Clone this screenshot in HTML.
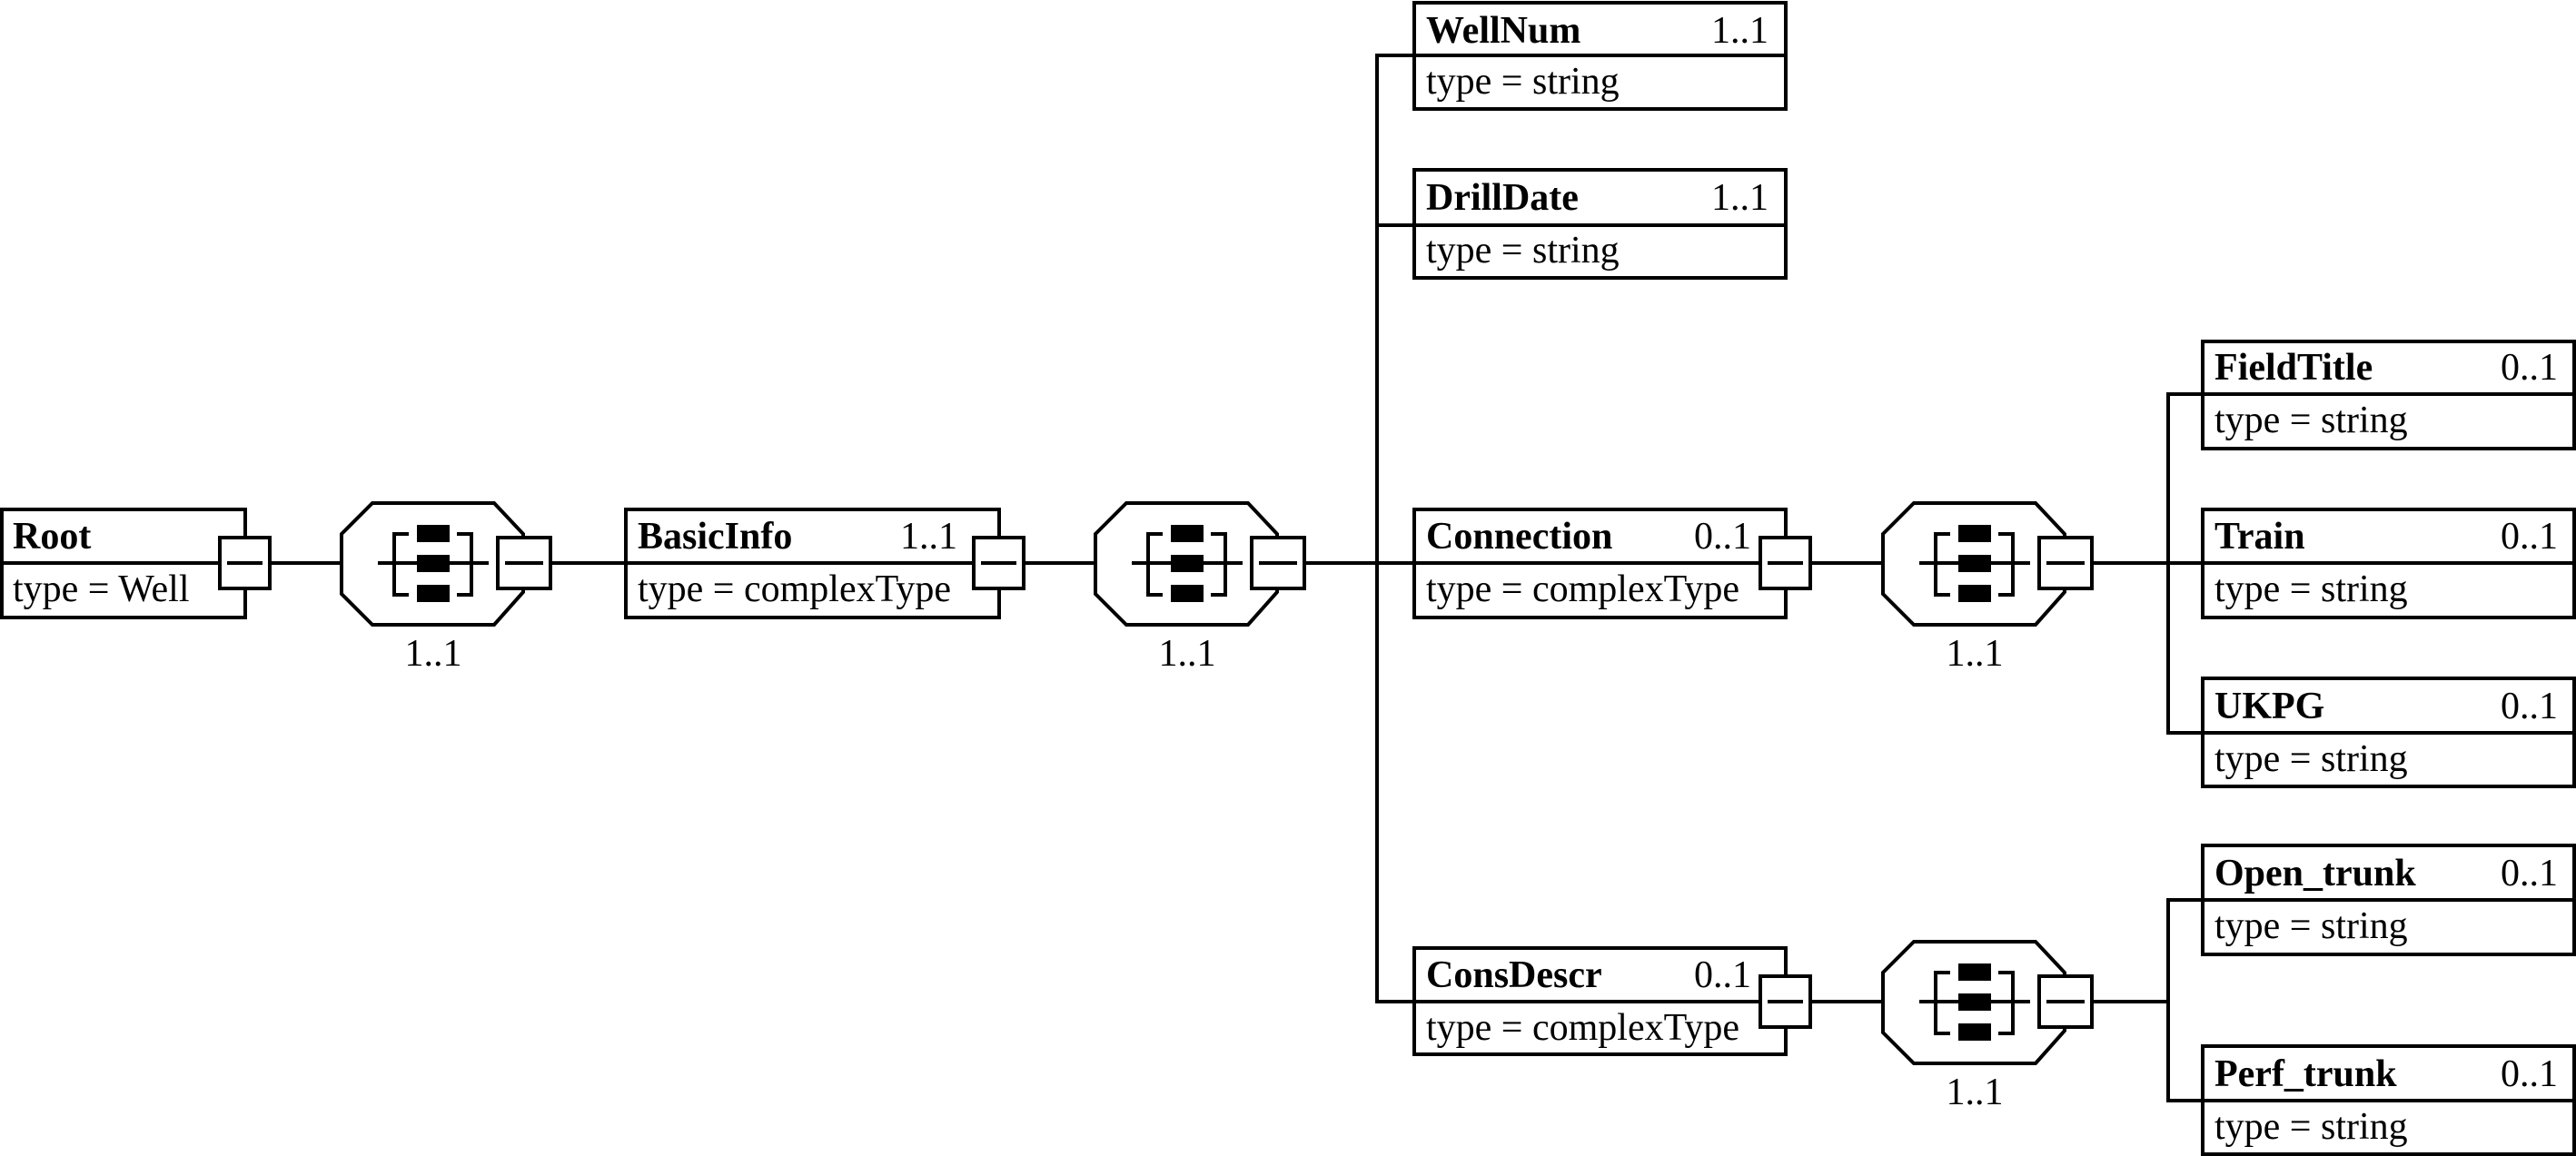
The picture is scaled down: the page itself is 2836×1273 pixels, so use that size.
<!DOCTYPE html>
<html><head><meta charset="utf-8"><style>
html,body{margin:0;padding:0;background:#fff;}
svg{display:block;}
text{font-family:"Liberation Serif",serif;font-size:42px;fill:#000;}
.b{font-weight:bold;}
</style></head><body>
<svg width="2836" height="1273" viewBox="0 0 2836 1273" xmlns="http://www.w3.org/2000/svg">
<defs>
<g id="oct">
<polygon points="0,-32 34,-66 168,-66 200,-32 200,32 168,68 34,68 0,34" fill="#fff" stroke="#000" stroke-width="4"/>
<path d="M40,0 H83 M119,0 H162 M74,-32 H58 V35 H74 M127,-32 H143 V35 H127" fill="none" stroke="#000" stroke-width="4"/>
<rect x="83" y="-42" width="36" height="19" fill="#000"/>
<rect x="83" y="-9" width="36" height="19" fill="#000"/>
<rect x="83" y="24" width="36" height="19" fill="#000"/>
<rect x="172" y="-28" width="58" height="56" fill="#fff" stroke="#000" stroke-width="4"/>
<path d="M180,0 H222" stroke="#000" stroke-width="4"/>
</g>
<g id="sb">
<rect x="0" y="-28" width="55" height="56" fill="#fff" stroke="#000" stroke-width="4"/>
<path d="M8,0 H47" stroke="#000" stroke-width="4"/>
</g>
</defs>
<g fill="none" stroke="#000" stroke-width="4">
<path d="M297,620 H376 M606,620 H689 M1127,620 H1206 M1436,620 H1516"/>
<path d="M1557,61 H1516 V1103 H1557 M1516,248 H1557 M1516,620 H1557"/>
<path d="M1993,620 H2073 M2303,620 H2387 M2425,434 H2387 V807 H2425 M2387,620 H2425"/>
<path d="M1993,1103 H2073 M2303,1103 H2387 M2425,991 H2387 V1212 H2425"/>
<rect x="2" y="561" width="268" height="119"/><path d="M2,620 H270"/>
<rect x="689" y="561" width="411" height="119"/><path d="M689,620 H1100"/>
<rect x="1557" y="3" width="409" height="117"/><path d="M1557,61 H1966"/>
<rect x="1557" y="187" width="409" height="119"/><path d="M1557,248 H1966"/>
<rect x="1557" y="561" width="409" height="119"/><path d="M1557,620 H1966"/>
<rect x="1557" y="1044" width="409" height="117"/><path d="M1557,1103 H1966"/>
<rect x="2425" y="376" width="409" height="118"/><path d="M2425,434 H2834"/>
<rect x="2425" y="561" width="409" height="119"/><path d="M2425,620 H2834"/>
<rect x="2425" y="747" width="409" height="119"/><path d="M2425,807 H2834"/>
<rect x="2425" y="931" width="409" height="120"/><path d="M2425,991 H2834"/>
<rect x="2425" y="1152" width="409" height="119"/><path d="M2425,1212 H2834"/>
</g>
<use href="#sb" x="242" y="620"/>
<use href="#sb" x="1072" y="620"/>
<use href="#sb" x="1938" y="620"/>
<use href="#sb" x="1938" y="1103"/>
<use href="#oct" x="376" y="620"/>
<use href="#oct" x="1206" y="620"/>
<use href="#oct" x="2073" y="620"/>
<use href="#oct" x="2073" y="1103"/>
<text x="477" y="733" text-anchor="middle">1..1</text>
<text x="1307" y="733" text-anchor="middle">1..1</text>
<text x="2174" y="733" text-anchor="middle">1..1</text>
<text x="2174" y="1216" text-anchor="middle">1..1</text>

<text class="b" x="14" y="604">Root</text>
<text x="14" y="662">type = Well</text>

<text class="b" x="702" y="604">BasicInfo</text>
<text x="1054" y="604" text-anchor="end">1..1</text>
<text x="702" y="662">type = complexType</text>

<text class="b" x="1570" y="47">WellNum</text>
<text x="1947" y="47" text-anchor="end">1..1</text>
<text x="1570" y="103">type = string</text>

<text class="b" x="1570" y="231">DrillDate</text>
<text x="1947" y="231" text-anchor="end">1..1</text>
<text x="1570" y="289">type = string</text>

<text class="b" x="1570" y="604">Connection</text>
<text x="1928" y="604" text-anchor="end">0..1</text>
<text x="1570" y="662">type = complexType</text>

<text class="b" x="1570" y="1087">ConsDescr</text>
<text x="1928" y="1087" text-anchor="end">0..1</text>
<text x="1570" y="1145">type = complexType</text>

<text class="b" x="2438" y="418">FieldTitle</text>
<text x="2816" y="418" text-anchor="end">0..1</text>
<text x="2438" y="476">type = string</text>

<text class="b" x="2438" y="604">Train</text>
<text x="2816" y="604" text-anchor="end">0..1</text>
<text x="2438" y="662">type = string</text>

<text class="b" x="2438" y="791">UKPG</text>
<text x="2816" y="791" text-anchor="end">0..1</text>
<text x="2438" y="849">type = string</text>

<text class="b" x="2438" y="975">Open_trunk</text>
<text x="2816" y="975" text-anchor="end">0..1</text>
<text x="2438" y="1033">type = string</text>

<text class="b" x="2438" y="1196">Perf_trunk</text>
<text x="2816" y="1196" text-anchor="end">0..1</text>
<text x="2438" y="1254">type = string</text>
</svg>
</body></html>
